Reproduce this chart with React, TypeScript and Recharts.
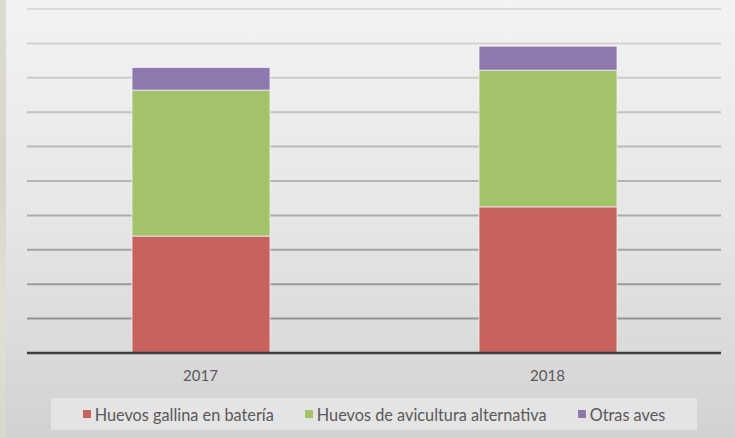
import React from "react";
import { BarChart, Bar, XAxis, YAxis, CartesianGrid } from "recharts";

const years = ["2017", "2018"];
const bateria = [3.4, 4.25];
const alternativa = [4.24, 3.97];
const otras = [0.66, 0.7];
const yTicks = [0, 1, 2, 3, 4, 5, 6, 7, 8, 9, 10];

const seriesNames = ["Huevos gallina en batería", "Huevos de avicultura alternativa", "Otras aves"];
const seriesColors = ["#c8625f", "#a4c26a", "#8f78ae"];

const data = years.map((y, i) => ({
  year: y,
  bateria: bateria[i],
  alternativa: alternativa[i],
  otras: otras[i],
}));

const FONT = "Lato, 'Liberation Sans', sans-serif";

export default function App() {
  return (
    <div
      style={{
        position: "absolute",
        left: 0,
        top: 0,
        width: 735,
        height: 438,
        overflow: "hidden",
        background: "linear-gradient(180deg, #f3f3f3 0%, #e6e6e6 50%, #d2d2d2 100%)",
        fontFamily: FONT,
      }}
    >
      <div
        style={{
          position: "absolute",
          left: 0,
          top: 0,
          width: 6,
          height: 438,
          background: "linear-gradient(180deg, #dcdcd0 0%, #d8d4cc 40%, #e2e0d6 70%, #d6d8cc 100%)",
        }}
      />
      <BarChart
        width={735}
        height={438}
        data={data}
        margin={{ top: 9, right: 14, left: 27, bottom: 55 }}
        barSize={138}
        style={{ position: "absolute", left: 0, top: 0 }}
      >
        <defs>
          <linearGradient id="gridGrad" x1="0" y1="0" x2="0" y2="353" gradientUnits="userSpaceOnUse">
            <stop offset="0%" stopColor="#dcdcdc" />
            <stop offset="100%" stopColor="#8c8c8c" />
          </linearGradient>
        </defs>
        <CartesianGrid
          vertical={false}
          stroke="url(#gridGrad)"
          strokeWidth={2}
          horizontalValues={yTicks}
        />
        <YAxis hide domain={[0, 10]} ticks={yTicks} />
        <XAxis
          dataKey="year"
          axisLine={{ stroke: "#3f3f3f", strokeWidth: 2.5 }}
          tickLine={false}
          tick={{ fill: "#595959", fontSize: 15, fontFamily: FONT }}
          tickMargin={11}
          height={30}
        />
        <Bar dataKey="bateria" stackId="a" fill={seriesColors[0]} stroke="#f2f2f2" strokeWidth={0.8} isAnimationActive={false} />
        <Bar dataKey="alternativa" stackId="a" fill={seriesColors[1]} stroke="#f2f2f2" strokeWidth={0.8} isAnimationActive={false} />
        <Bar dataKey="otras" stackId="a" fill={seriesColors[2]} stroke="#f2f2f2" strokeWidth={0.8} isAnimationActive={false} />
      </BarChart>
      <div
        style={{
          position: "absolute",
          left: 51,
          top: 398,
          width: 646,
          height: 32,
          background: "#e4e4e4",
          display: "flex",
          alignItems: "center",
          justifyContent: "center",
          gap: 31,
          color: "#595959",
          fontSize: 16.3,
        }}
      >
        {seriesNames.map((n, i) => (
          <div key={n} style={{ display: "flex", alignItems: "center" }}>
            <span style={{ width: 8, height: 8, background: seriesColors[i], marginRight: 4, display: "inline-block" }} />
            <span>{n}</span>
          </div>
        ))}
      </div>
    </div>
  );
}
